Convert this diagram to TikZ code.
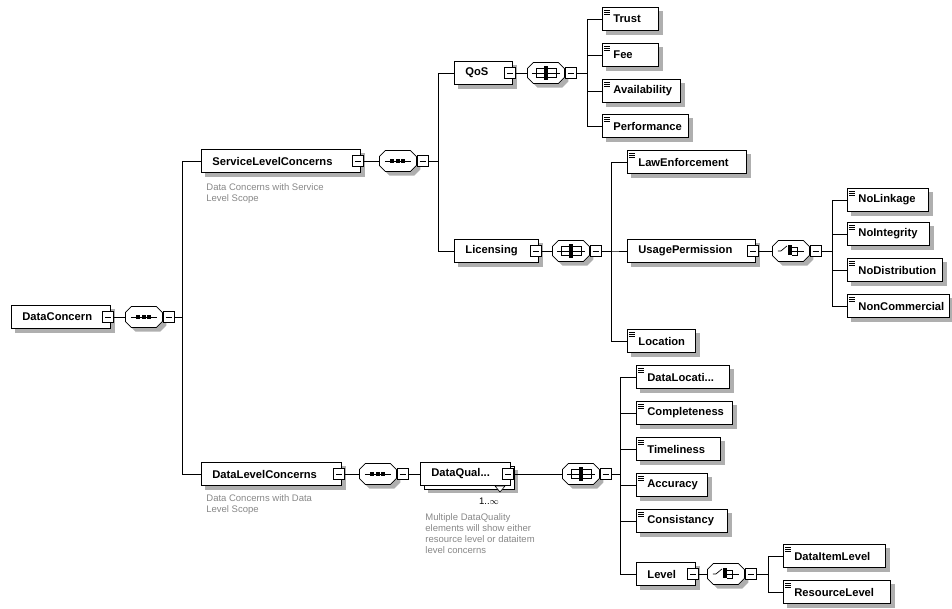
\documentclass[tikz,border=0pt]{standalone}
\usepackage{fontspec}
\setmainfont{Liberation Sans}
\usetikzlibrary{shadows,backgrounds}

\definecolor{shadowgray}{RGB}{175,175,175}
\definecolor{notegray}{RGB}{135,135,135}

\tikzset{
  octa/.pic={
    \fill[shadowgray] (-14.5,-0.5) -- (-8.5,-6.5) -- (16.5,-6.5) -- (22.5,-0.5)
      -- (22.5,8.5) -- (16.5,14.5) -- (-8.5,14.5) -- (-14.5,8.5) -- cycle;
    \draw[fill=white] (-18.5,-4.5) -- (-12.5,-10.5) -- (12.5,-10.5) -- (18.5,-4.5)
      -- (18.5,4.5) -- (12.5,10.5) -- (-12.5,10.5) -- (-18.5,4.5) -- cycle;},
  seqc/.pic={
    \pic {octa};
    \draw[line width=0.7pt] (-13,0) -- (13,0);
    \foreach \u in {-5.5,0,5.5} \fill[black] (\u-2,-1.8) rectangle (\u+2,1.8);},
  allc/.pic={
    \pic {octa};
    \draw[line width=0.7pt] (-14,0) -- (14,0);
    \draw[line width=0.7pt] (-10,-4.5) rectangle (10,4.5);
    \fill[black] (-2,-7) rectangle (2,7);},
  choicec/.pic={
    \pic {octa};
    \draw[line width=0.7pt] (-13,0) -- (-10,0) -- (-4,-5);
    \fill[black] (-2.5,-6.5) rectangle (1,4);
    \draw[line width=0.7pt] (1,-4) -- (6,-4) -- (6,4) -- (1,4);
    \draw[line width=0.7pt] (1,0) -- (13,0);}
}

\begin{document}
\begin{tikzpicture}[
  x=1pt, y=-1pt,
  line width=0.8pt,
  elem/.style={rectangle, draw, fill=white, anchor=west, minimum height=23, inner sep=0,
    text width=#1pt, align=left, font=\bfseries\fontsize{11.2}{13}\selectfont,
    execute at begin node={\hspace*{11pt}}},
  leaf/.style={elem=#1, path picture={
    \foreach \d in {2.5,4.5,6.5}
      \draw[line width=0.6pt] ([xshift=2pt, yshift=-\d pt]path picture bounding box.north west) -- ++(6pt,0);}},
  minusbox/.style={rectangle, draw, fill=white, minimum size=11, inner sep=0, path picture={
    \draw[line width=0.6pt] ([xshift=2.5pt]path picture bounding box.west) -- ([xshift=-2.5pt]path picture bounding box.east);}},
  comp/.style={rectangle, anchor=west, minimum width=37, minimum height=21, inner sep=0},
  note/.style={anchor=north west, align=left, inner sep=0, text=notegray,
    font=\fontsize{9.5}{11}\selectfont}
]
\useasboundingbox (0,0) rectangle (952,608);

% Root
\node[elem=99] (dc) at (11,317) {DataConcern};
\node[minusbox] (dc-m) at ([xshift=-2.5pt]dc.east) {};
\node[comp] (dc-c) at (125,317) {};

% Service level
\node[elem=159] (slc) at (201,161) {ServiceLevelConcerns};
\node[minusbox] (slc-m) at ([xshift=-2.5pt]slc.east) {};
\node[comp] (slc-c) at (379,161) {};
\node[note] (slc-doc) at (206,183) {Data Concerns with Service\\Level Scope};

\node[elem=58] (qos) at (454,73) {QoS};
\node[minusbox] (qos-m) at ([xshift=-2.5pt]qos.east) {};
\node[comp] (qos-c) at (527,73) {};

\node[leaf=56] (trust) at (602,19) {Trust};
\node[leaf=56] (fee) at (602,55) {Fee};
\node[leaf=78] (avail) at (602,91) {Availability};
\node[leaf=86] (perf) at (602,126) {Performance};

\node[elem=84] (lic) at (454,251) {Licensing};
\node[minusbox] (lic-m) at ([xshift=-2.5pt]lic.east) {};
\node[comp] (lic-c) at (552,251) {};

\node[leaf=119] (law) at (627,162) {LawEnforcement};
\node[elem=128] (usage) at (627,251) {UsagePermission};
\node[leaf=68] (loc) at (627,341) {Location};

\node[minusbox] (usage-m) at ([xshift=-2.5pt]usage.east) {};
\node[comp] (usage-c) at (772,251) {};

\node[leaf=81] (nolink) at (847,200) {NoLinkage};
\node[leaf=82] (noint) at (847,234) {NoIntegrity};
\node[leaf=95] (nodist) at (847,270) {NoDistribution};
\node[leaf=102] (noncom) at (847,306) {NonCommercial};

% Data level
\node[elem=140] (dlc) at (201,474) {DataLevelConcerns};
\node[minusbox] (dlc-m) at ([xshift=-2.5pt]dlc.east) {};
\node[comp] (dlc-c) at (359,474) {};
\node[note] (dlc-doc) at (206,494) {Data Concerns with Data\\Level Scope};

\node[elem=90, copy shadow={shadow xshift=3.5pt, shadow yshift=-3.5pt}] (dq) at (420,474) {DataQual...};
\node[minusbox] (dq-m) at ([xshift=-2.5pt]dq.east) {};
\draw[fill=white, line width=0.6pt] (495,486) -- (505,486) -- (500,492) -- cycle;
\node[inner sep=0, font=\fontsize{9.5}{11}\selectfont] (dq-mult) at (489,501) {1..$\infty$};
\node[note] (dq-doc) at (425,513) {Multiple DataQuality\\elements will show either\\resource level or dataitem\\level concerns};
\node[comp] (dq-c) at (562,474) {};

\node[leaf=93] (dloc) at (636,377) {DataLocati...};
\node[leaf=96] (compl) at (636,413) {Completeness};
\node[leaf=84] (timel) at (636,449) {Timeliness};
\node[leaf=71] (accur) at (636,485) {Accuracy};
\node[leaf=91] (consist) at (636,521) {Consistancy};
\node[elem=59] (level) at (636,574) {Level};

\node[minusbox] (level-m) at ([xshift=-2.5pt]level.east) {};
\node[comp] (level-c) at (707,574) {};

\node[leaf=102] (ditem) at (783,556) {DataItemLevel};
\node[leaf=107] (reslvl) at (783,592) {ResourceLevel};

% Compositors
\pic at (dc-c) {seqc};
\pic at (slc-c) {seqc};
\pic at (qos-c) {allc};
\pic at (lic-c) {allc};
\pic at (usage-c) {choicec};
\pic at (dlc-c) {seqc};
\pic at (dq-c) {allc};
\pic at (level-c) {choicec};

\node[minusbox, anchor=west] (dc-cm) at (dc-c.east) {};
\node[minusbox, anchor=west] (slc-cm) at (slc-c.east) {};
\node[minusbox, anchor=west] (qos-cm) at (qos-c.east) {};
\node[minusbox, anchor=west] (lic-cm) at (lic-c.east) {};
\node[minusbox, anchor=west] (usage-cm) at (usage-c.east) {};
\node[minusbox, anchor=west] (dlc-cm) at (dlc-c.east) {};
\node[minusbox, anchor=west] (dq-cm) at (dq-c.east) {};
\node[minusbox, anchor=west] (level-cm) at (level-c.east) {};

% Connectors
\draw (dc-m) -- (dc-c);
\draw (dc-cm.east) -- ++(8,0) |- (slc.west);
\draw (dc-cm.east) -- ++(8,0) |- (dlc.west);

\draw (slc-m) -- (slc-c);
\draw (slc-cm.east) -- ++(10,0) |- (qos.west);
\draw (slc-cm.east) -- ++(10,0) |- (lic.west);

\draw (qos-m) -- (qos-c);
\foreach \k in {trust,fee,avail,perf}
  \draw (qos-cm.east) -- ++(11,0) |- (\k.west);

\draw (lic-m) -- (lic-c);
\foreach \k in {law,usage,loc}
  \draw (lic-cm.east) -- ++(10,0) |- (\k.west);

\draw (usage-m) -- (usage-c);
\foreach \k in {nolink,noint,nodist,noncom}
  \draw (usage-cm.east) -- ++(11,0) |- (\k.west);

\draw (dlc-m) -- (dlc-c);
\draw (dlc-cm) -- (dq);

\draw (dq-m) -- (dq-c);
\foreach \k in {dloc,compl,timel,accur,consist,level}
  \draw (dq-cm.east) -- ++(9,0) |- (\k.west);

\draw (level-m) -- (level-c);
\foreach \k in {ditem,reslvl}
  \draw (level-cm.east) -- ++(12,0) |- (\k.west);

% Shadows
\begin{scope}[on background layer]
  \foreach \n in {dc,slc,qos,trust,fee,avail,perf,lic,law,usage,loc,nolink,noint,nodist,noncom,
                  dlc,dloc,compl,timel,accur,consist,level,ditem,reslvl}
    \fill[shadowgray] ([xshift=4pt, yshift=-4pt]\n.south west) rectangle ([xshift=4pt, yshift=-4pt]\n.north east);
  \fill[shadowgray] ([xshift=7.5pt, yshift=-7.5pt]dq.south west) rectangle ([xshift=7.5pt, yshift=-7.5pt]dq.north east);
\end{scope}

\end{tikzpicture}
\end{document}
